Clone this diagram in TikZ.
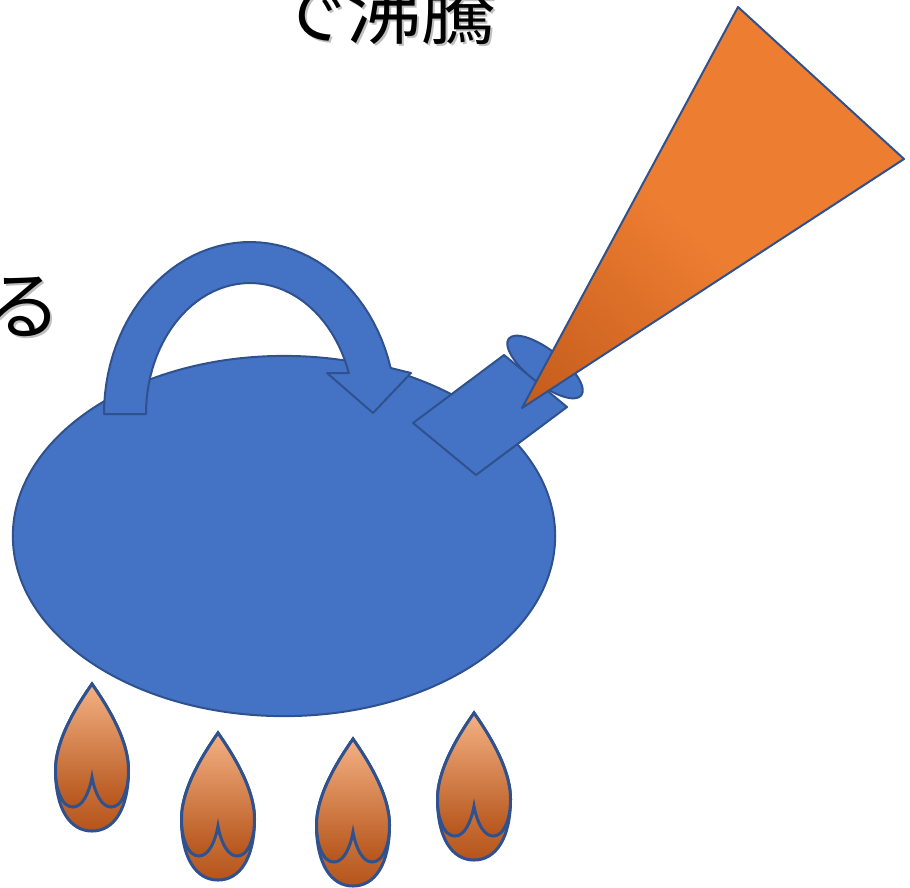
\documentclass[tikz,border=0pt]{standalone}
\usepackage{fontspec}
\newfontfamily\jpfont{Noto Sans CJK JP}
\usetikzlibrary{shapes.geometric}
\definecolor{kettleblue}{HTML}{4472C4}
\definecolor{kettleline}{HTML}{2F528F}
\definecolor{fireorange}{HTML}{ED7D31}
\definecolor{firelight}{HTML}{F4B183}
\definecolor{firedark}{HTML}{B5541A}
\definecolor{steamdark}{HTML}{B85216}
\pgfdeclareverticalshading{steam}{100bp}{color(0bp)=(steamdark); color(6bp)=(steamdark); color(46bp)=(fireorange); color(100bp)=(fireorange)}

\begin{document}
\begin{tikzpicture}[x=0.01cm, y=-0.01cm,
  kettle/.style={fill=kettleblue, draw=kettleline, line width=0.02cm, line join=round},
  fire/.style={top color=firelight, middle color=fireorange, bottom color=firedark, draw=kettleline, line width=0.03cm},
  words/.style={font=\jpfont\fontsize{21.3}{25}\selectfont, inner sep=0pt, anchor=base}]
\useasboundingbox (0,0) rectangle (910,887);

\node[words, text=black!25] at (386,40) {で沸騰};
\node[words] (boil) at (384,38) {で沸騰};
\node[words, text=black!25] at (26,335) {る};
\node[words] (ru) at (24,333) {る};

\node[kettle, ellipse, minimum width=5.42cm, minimum height=3.6cm] (body) at (284,536) {};

\draw[kettle] (104,414) -- (146,414)
  -- plot[domain=180:18.2, samples=50] ({250+104*cos(\x)},{414-131*sin(\x)})
  -- (327,373) -- (373,413) -- (411,373) -- (390.7,368)
  -- plot[domain=15.5:180, samples=50] ({250+146*cos(\x)},{414-172*sin(\x)})
  -- cycle;

\node[kettle, ellipse, rotate=-38, minimum width=0.92cm, minimum height=0.34cm] (lid) at (545,367) {};
\draw[kettle] (413,423) -- (504,355) -- (567,407) -- (476,475) -- cycle;

\draw[draw=kettleline, line width=0.02cm, line join=round, shading=steam, shading angle=-43]
  (738,7) -- (904,159) -- (522,408) -- cycle;

\foreach \fx/\fy in {92/684, 218/733, 353/739, 474/713} {
\begin{scope}[shift={(\fx,\fy)}]
\draw[fire] (0,0) .. controls (14,20) and (36.5,55) .. (36.5,86)
  .. controls (36.5,125) and (22,147) .. (0,147)
  .. controls (-22,147) and (-36.5,125) .. (-36.5,86)
  .. controls (-36.5,55) and (-14,20) .. (0,0) -- cycle;
\draw[fire] (0,0) .. controls (14,20) and (36.5,55) .. (36.5,86)
  .. controls (36.5,96) and (35,104) .. (33,109)
  .. controls (29,120) and (24,123) .. (19,123)
  .. controls (10,123) and (3,110) .. (0,93)
  .. controls (-3,110) and (-10,123) .. (-19,123)
  .. controls (-24,123) and (-29,120) .. (-33,109)
  .. controls (-35,104) and (-36.5,96) .. (-36.5,86)
  .. controls (-36.5,55) and (-14,20) .. (0,0) -- cycle;
\end{scope}
}
\end{tikzpicture}
\end{document}
